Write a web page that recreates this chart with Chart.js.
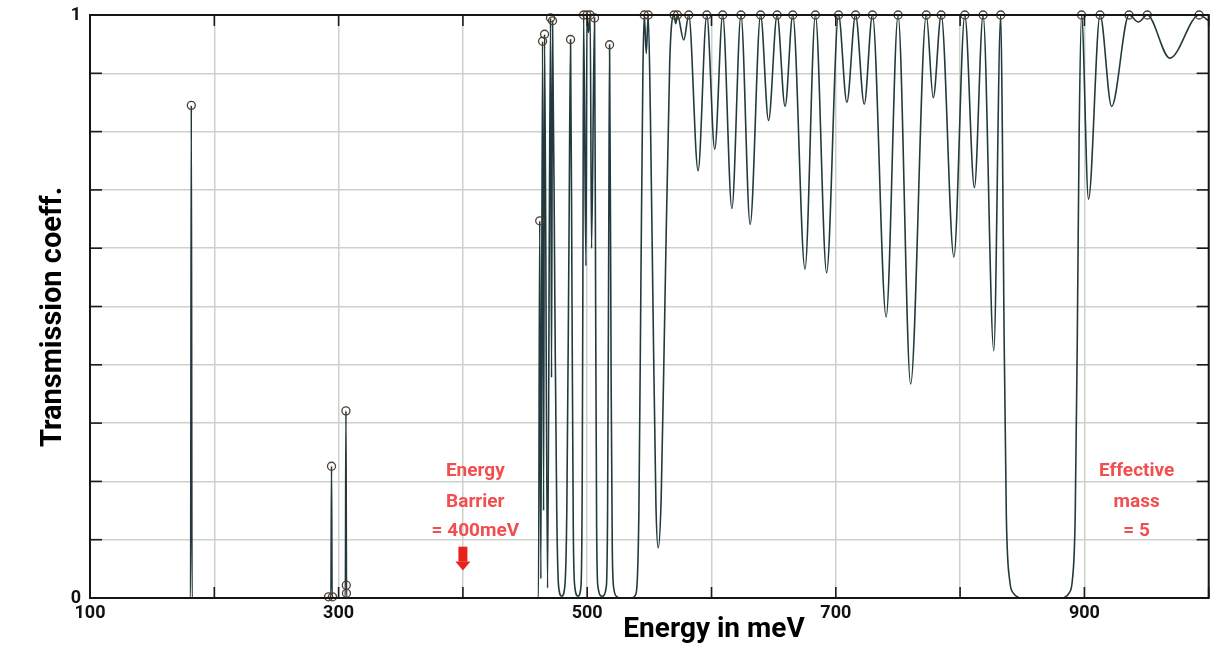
<!DOCTYPE html>
<html>
<head>
<meta charset="utf-8">
<script src="https://cdn.jsdelivr.net/npm/chart.js@4.4.0/dist/chart.umd.min.js"></script>
<style>
html,body{margin:0;padding:0;background:#fff;}
#wrap{width:1214px;height:646px;position:relative;}
</style>
</head>
<body>
<div id="wrap"><canvas id="c"></canvas></div>
<script>
// ---- data ----
const energy = [
  100, 180.9, 181.5, 182.1,
  291.4, 291.9, 292.4, 293.8, 294.3, 294.8, 295.1, 295.4,
  305.4, 305.9, 306.4,
  460.8, 461.8, 462.7, 464.1, 464.9, 465.7, 468.1, 470.5, 471.3, 472.1,
  474.0, 475.5, 477.0, 479.5, 482.0, 483.6, 485.3, 486.6,
  487.8, 488.8, 490.0, 492.6, 495.0, 496.0, 496.6, 497.1,
  499.0, 499.8, 501.0, 502.4, 503.5, 505.9,
  506.8, 507.6, 508.6, 512.0, 515.4, 516.4, 517.3, 518.0,
  519.2, 520.2, 521.5, 524.0, 527.0, 536.0, 538.5, 540.0, 541.6, 543.2, 544.8, 545.9,
  547.5, 549.1,
  550.9, 553.0, 555.3, 557.1, 559.5, 562.4, 566.4, 569.9,
  571.2, 572.6, 577.7, 581.7,
  589.2, 596.2, 602.6, 609.0, 616.4, 623.7, 631.1, 639.5, 645.9, 652.8,
  659.2, 665.4, 675.2, 683.6, 692.6, 702.2, 708.9, 715.9, 722.9, 729.5,
  740.5, 750.1, 760.2, 772.8, 778.4, 784.8, 795.0, 803.8, 811.5, 818.5,
  827.1, 832.7,
  834.0, 835.4, 837.2, 839.9, 843.0, 847.0, 850.0,
  880.0, 884.0, 887.5, 890.3, 892.6, 894.3, 895.8, 897.7,
  903.3, 912.6, 921.9, 935.9, 943.4, 950.6, 968.7, 992.3, 1000
];
const transmission = [
  0, 0, 0.845, 0,
  0, 0.002, 0, 0, 0.226, 0, 0.002, 0,
  0, 0.321, 0,
  0, 0.647, 0.033, 0.955, 0.15, 0.967, 0.017, 0.995, 0.378, 0.99,
  0.5, 0.15, 0.02, 0.003, 0.02, 0.15, 0.6, 0.958,
  0.5, 0.12, 0.02, 0.003, 0.02, 0.2, 0.6, 1.0,
  0.57, 1.0, 0.97, 1.0, 0.6, 0.995,
  0.5, 0.12, 0.02, 0.003, 0.02, 0.15, 0.6, 0.949,
  0.4, 0.08, 0.015, 0.002, 0, 0, 0.004, 0.02, 0.15, 0.54, 0.9, 1.0,
  0.934, 1.0,
  0.82, 0.49, 0.16, 0.086, 0.17, 0.49, 0.92, 1.0,
  0.985, 1.0, 0.957, 1.0,
  0.733, 1.0, 0.77, 1.0, 0.668, 1.0, 0.641, 1.0, 0.819, 1.0,
  0.843, 1.0, 0.564, 1.0, 0.558, 1.0, 0.85, 1.0, 0.847, 1.0,
  0.482, 1.0, 0.367, 1.0, 0.858, 1.0, 0.585, 1.0, 0.704, 1.0,
  0.424, 1.0,
  0.8, 0.45, 0.14, 0.03, 0.008, 0.001, 0,
  0, 0.001, 0.008, 0.03, 0.14, 0.45, 0.8, 1.0,
  0.684, 1.0, 0.843, 1.0, 0.988, 1.0, 0.926, 1.0, 0.99
];
const peakEnergy = [
  181.5, 291.9, 294.3, 295.1, 305.9, 306.2, 306.3,
  461.8, 464.1, 465.7, 470.5, 472.1, 486.6,
  497.1, 499.8, 502.4, 505.9, 518.0,
  545.9, 549.1, 569.9, 572.6, 581.7, 596.2, 609.0, 623.7, 639.5, 652.8,
  665.4, 683.6, 702.2, 715.9, 729.5, 750.1, 772.8, 784.8, 803.8, 818.5,
  832.7, 897.7, 912.6, 935.9, 950.6, 992.3
];
const peakTransmission = [
  0.845, 0.002, 0.226, 0.002, 0.321, 0.022, 0.008,
  0.647, 0.955, 0.967, 0.995, 0.99, 0.958,
  1, 1, 1, 0.995, 0.949,
  1, 1, 1, 1, 1, 1, 1, 1, 1, 1,
  1, 1, 1, 1, 1, 1, 1, 1, 1, 1,
  1, 1, 1, 1, 1, 1
];
const xGrid = [100, 200, 300, 400, 500, 600, 700, 800, 900, 1000];
const xTickLabels = {"100": "100", "300": "300", "500": "500", "700": "700", "900": "900"};
const yGrid = [0, 0.1, 0.2, 0.3, 0.4, 0.5, 0.6, 0.7, 0.8, 0.9, 1];
const yTickLabels = {"0": "0", "1": "1"};
const xTitle = "Energy in meV";
const yTitle = "Transmission coeff.";
const barrierNote = ["Energy", "Barrier", "= 400meV"];
const massNote = ["Effective", "mass", "= 5"];
const barrierEnergy = 400;
const barrierNoteEnergy = 410;
const massNoteEnergy = 942;
const noteRows = [0.218, 0.165, 0.115];
const arrowTop = 0.088, arrowTip = 0.047;

// ---- chart ----
const curve = energy.map((e, i) => ({x: e, y: transmission[i]}));
const peaks = peakEnergy.map((e, i) => ({x: e, y: peakTransmission[i]}));

const decor = {
  id: 'decor',
  afterDatasetsDraw(chart) {
    const {ctx, chartArea: a, scales: {x, y}} = chart;
    ctx.save();
    const seg = (x1, y1, x2, y2) => { ctx.beginPath(); ctx.moveTo(x1, y1); ctx.lineTo(x2, y2); ctx.stroke(); };
    // inward tick marks
    ctx.strokeStyle = '#1c1c1c';
    ctx.lineWidth = 1.6;
    xGrid.forEach(v => { const p = x.getPixelForValue(v); seg(p, a.bottom, p, a.bottom - 11); seg(p, a.top, p, a.top + 11); });
    yGrid.forEach(v => { const p = y.getPixelForValue(v); seg(a.left, p, a.left + 12, p); seg(a.right, p, a.right - 12, p); });
    // frame
    ctx.lineWidth = 2;
    ctx.strokeStyle = '#151515';
    ctx.strokeRect(a.left, a.top, a.right - a.left, a.bottom - a.top);
    // notes
    ctx.fillStyle = '#f24e4e';
    ctx.font = 'bold 19px Roboto';
    ctx.textAlign = 'center';
    ctx.textBaseline = 'middle';
    barrierNote.forEach((t, i) => ctx.fillText(t, x.getPixelForValue(barrierNoteEnergy), y.getPixelForValue(noteRows[i])));
    massNote.forEach((t, i) => ctx.fillText(t, x.getPixelForValue(massNoteEnergy), y.getPixelForValue(noteRows[i])));
    // arrow at the barrier energy
    const ax = x.getPixelForValue(barrierEnergy);
    const yt = y.getPixelForValue(arrowTop), yp = y.getPixelForValue(arrowTip);
    const headH = 9;
    ctx.fillStyle = '#e8231c';
    ctx.fillRect(ax - 4.5, yt, 9, (yp - headH) - yt);
    ctx.beginPath();
    ctx.moveTo(ax - 7.5, yp - headH);
    ctx.lineTo(ax + 7.5, yp - headH);
    ctx.lineTo(ax, yp);
    ctx.closePath();
    ctx.fill();
    // axis titles
    ctx.fillStyle = '#000';
    ctx.font = 'bold 28px Roboto';
    ctx.textAlign = 'center';
    ctx.textBaseline = 'alphabetic';
    ctx.fillText(xTitle, 714, 637);
    ctx.save();
    ctx.translate(61, 317);
    ctx.rotate(-Math.PI / 2);
    ctx.font = 'bold 29px Roboto';
    ctx.fillText(yTitle, 0, 0);
    ctx.restore();
    ctx.restore();
  }
};

new Chart(document.getElementById('c'), {
  type: 'scatter',
  data: {
    datasets: [
      {
        label: 'T(E)',
        data: curve,
        showLine: true,
        borderColor: '#223a3e',
        borderWidth: 1.6,
        pointRadius: 0,
        cubicInterpolationMode: 'monotone',
        order: 2
      },
      {
        label: 'peaks',
        data: peaks,
        showLine: false,
        pointRadius: 4,
        pointStyle: 'circle',
        pointBorderColor: '#4e3f32',
        pointBackgroundColor: 'rgba(0,0,0,0)',
        pointBorderWidth: 1.3,
        clip: false,
        order: 1
      }
    ]
  },
  options: {
    responsive: true,
    maintainAspectRatio: false,
    animation: false,
    devicePixelRatio: 1,
    layout: {padding: {top: 15, right: 2, left: 0, bottom: 0}},
    plugins: {legend: {display: false}, tooltip: {enabled: false}},
    scales: {
      x: {
        type: 'linear',
        min: 100, max: 1000,
        afterBuildTicks: s => { s.ticks = xGrid.map(v => ({value: v})); },
        afterFit: s => { s.height = 48; s.paddingLeft = 0; s.paddingRight = 0; },
        ticks: {
          autoSkip: false, maxRotation: 0, padding: 5,
          color: '#111',
          font: {family: 'Roboto', weight: 'bold', size: 18},
          callback: v => xTickLabels[String(v)] || ''
        },
        grid: {color: '#cdd1cb', lineWidth: 1.5, drawTicks: false},
        border: {display: false}
      },
      y: {
        type: 'linear',
        min: 0, max: 1,
        afterBuildTicks: s => { s.ticks = yGrid.map(v => ({value: v})); },
        afterFit: s => { s.width = 90; s.paddingTop = 0; s.paddingBottom = 0; },
        ticks: {
          autoSkip: false, padding: 9,
          color: '#111',
          font: {family: 'Roboto', weight: 'bold', size: 18},
          callback: v => yTickLabels[String(v)] || ''
        },
        grid: {color: '#cdd1cb', lineWidth: 1.5, drawTicks: false},
        border: {display: false}
      }
    }
  },
  plugins: [decor]
});
</script>
</body>
</html>
